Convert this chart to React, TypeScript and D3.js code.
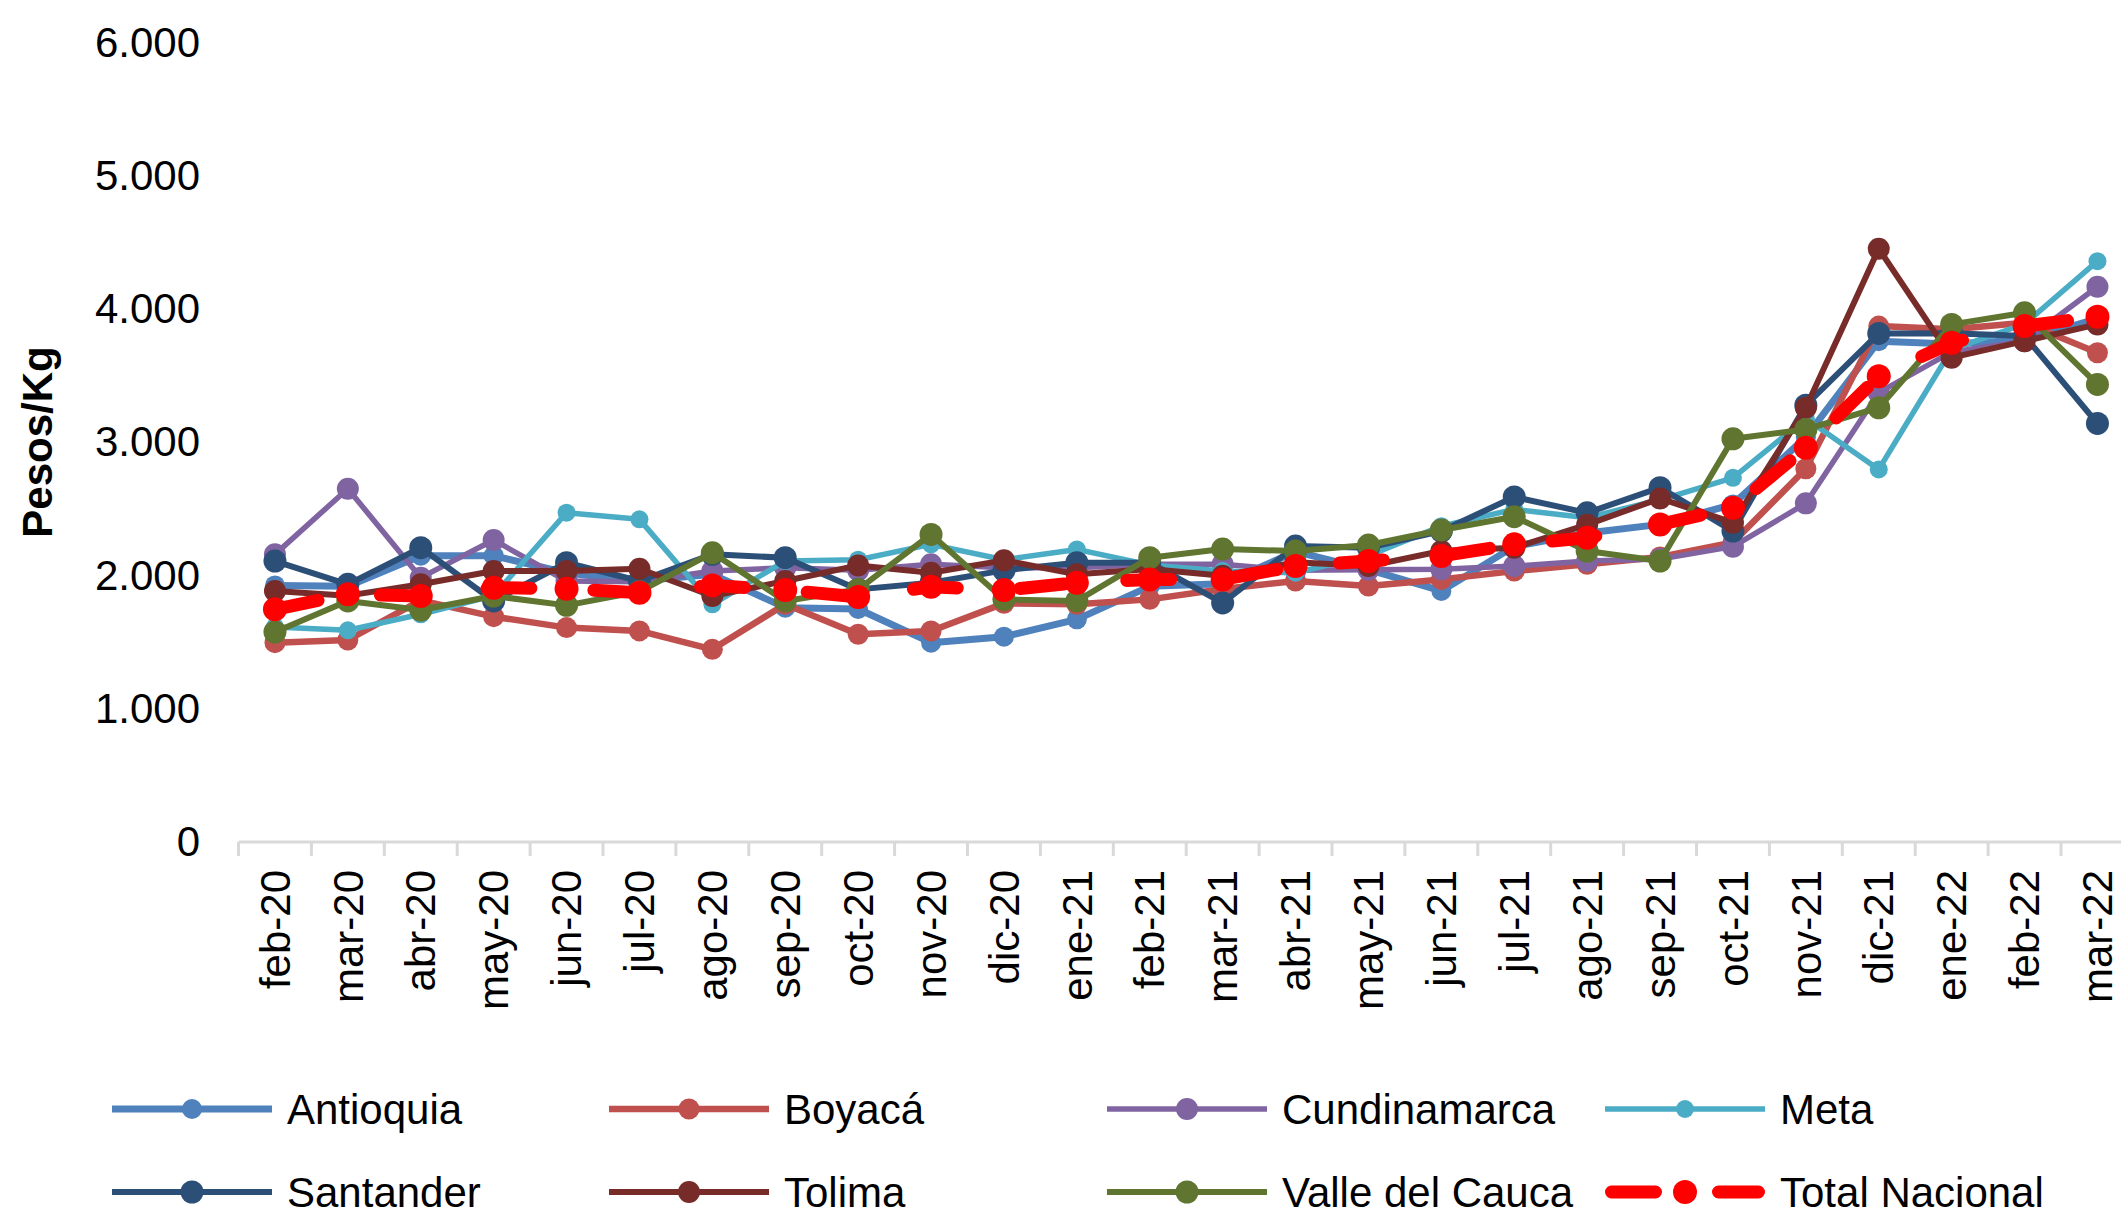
import React, { useEffect, useRef } from 'react';
import * as d3 from 'd3';

const months = [
  'feb-20', 'mar-20', 'abr-20', 'may-20', 'jun-20', 'jul-20', 'ago-20', 'sep-20', 'oct-20',
  'nov-20', 'dic-20', 'ene-21', 'feb-21', 'mar-21', 'abr-21', 'may-21', 'jun-21', 'jul-21',
  'ago-21', 'sep-21', 'oct-21', 'nov-21', 'dic-21', 'ene-22', 'feb-22', 'mar-22',
];

const antioquia = [1927, 1920, 2150, 2150, 2020, 1960, 2010, 1760, 1750, 1497, 1542, 1672, 1920,
  1940, 2180, 2045, 1885, 2220, 2320, 2385, 2535, 3040, 3761, 3740, 3770, 3930];
const boyaca = [1497, 1517, 1815, 1692, 1610, 1585, 1447, 1785, 1560, 1585, 1792, 1785, 1822,
  1900, 1960, 1922, 1972, 2035, 2085, 2140, 2250, 2803, 3874, 3850, 3900, 3674];
const cundinamarca = [2160, 2653, 1985, 2268, 1960, 1955, 2035, 2060, 2040, 2085, 2060, 2060, 2085,
  2085, 2040, 2045, 2048, 2072, 2110, 2125, 2218, 2543, 3374, 3680, 3760, 4170];
const meta = [1615, 1590, 1710, 1850, 2473, 2423, 1785, 2110, 2120, 2235, 2120, 2197, 2080,
  2035, 2022, 2150, 2372, 2498, 2435, 2570, 2735, 3180, 2798, 3700, 3890, 4362];
const santander = [2110, 1935, 2210, 1810, 2097, 1960, 2160, 2135, 1897, 1947, 2040, 2097, 2097,
  1795, 2222, 2210, 2335, 2591, 2472, 2661, 2335, 3280, 3819, 3820, 3800, 3143];
const tolima = [1885, 1850, 1935, 2035, 2035, 2052, 1847, 1960, 2077, 2022, 2115, 2010, 2050,
  2000, 2100, 2072, 2185, 2210, 2383, 2580, 2398, 3261, 4455, 3637, 3761, 3887];
const valle = [1577, 1810, 1742, 1847, 1777, 1880, 2172, 1810, 1897, 2310, 1822, 1810, 2135,
  2200, 2185, 2230, 2343, 2443, 2185, 2110, 3028, 3098, 3261, 3887, 3974, 3436];
const totalNacional = [1747, 1860, 1847, 1910, 1902, 1872, 1927, 1892, 1840, 1917, 1892, 1947, 1972,
  1972, 2072, 2110, 2148, 2235, 2285, 2385, 2510, 2961, 3498, 3749, 3874, 3944];

const yTicks = [0, 1000, 2000, 3000, 4000, 5000, 6000];

const series = [
  { name: 'Antioquia', values: antioquia, color: '#4F81BD', width: 7, r: 10 },
  { name: 'Boyacá', values: boyaca, color: '#C0504D', width: 6.5, r: 10.5 },
  { name: 'Cundinamarca', values: cundinamarca, color: '#8064A2', width: 5.5, r: 11 },
  { name: 'Meta', values: meta, color: '#4BACC6', width: 5.5, r: 9 },
  { name: 'Santander', values: santander, color: '#2C4F78', width: 6, r: 11.5 },
  { name: 'Tolima', values: tolima, color: '#772C2A', width: 6, r: 11 },
  { name: 'Valle del Cauca', values: valle, color: '#5F7530', width: 6, r: 11.5 },
  { name: 'Total Nacional', values: totalNacional, color: '#FF0000', width: 13, r: 12, dash: '44,63' },
];

const W = 2121;
const H = 1212;
const FONT = '"Liberation Sans", Arial, sans-serif';

const App: React.FC = () => {
  const svgRef = useRef<SVGSVGElement>(null);

  useEffect(() => {
    if (!svgRef.current) return;
    const root = d3.select(svgRef.current);
    root.selectAll('*').remove();

    const x0 = 238.5;
    const step = 72.9;
    const x = d3.scaleBand<string>()
      .domain(months)
      .range([x0, x0 + step * months.length])
      .paddingInner(0)
      .paddingOuter(0);
    const y = d3.scaleLinear().domain([0, 6000]).range([842, 43]);
    const cx = (m: string) => (x(m) as number) + x.bandwidth() / 2;

    const fmt = d3.formatLocale({ decimal: ',', thousands: '.', grouping: [3], currency: ['$', ''] }).format(',');

    const svg = root.attr('width', W).attr('height', H).style('font-family', FONT);

    // Y axis labels (no line, no grid)
    const yAxis = svg.append('g')
      .attr('transform', 'translate(200,0)')
      .call(d3.axisLeft(y).tickValues(yTicks).tickSize(0).tickPadding(0).tickFormat((d) => fmt(d as number)));
    yAxis.select('.domain').remove();
    yAxis.selectAll('text')
      .attr('font-size', 42)
      .attr('font-family', FONT)
      .attr('fill', '#000');

    // X axis line + ticks at band boundaries
    const xa = svg.append('g');
    xa.append('line')
      .attr('x1', x0).attr('x2', x0 + step * months.length)
      .attr('y1', y(0)).attr('y2', y(0))
      .attr('stroke', '#d9d9d9').attr('stroke-width', 3);
    xa.selectAll('.tick')
      .data(d3.range(months.length + 1))
      .enter()
      .append('line')
      .attr('x1', (k) => x0 + k * x.step())
      .attr('x2', (k) => x0 + k * x.step())
      .attr('y1', y(0))
      .attr('y2', y(0) + 14)
      .attr('stroke', '#d9d9d9')
      .attr('stroke-width', 3);

    xa.selectAll('.lbl')
      .data(months)
      .enter()
      .append('text')
      .attr('transform', (m) => `translate(${cx(m)},870) rotate(-90)`)
      .attr('text-anchor', 'end')
      .attr('dy', '0.35em')
      .attr('font-size', 42)
      .attr('fill', '#000')
      .text((m) => m);

    // Y title
    svg.append('text')
      .attr('transform', 'translate(52,442) rotate(-90)')
      .attr('text-anchor', 'middle')
      .attr('font-size', 42)
      .attr('font-weight', 700)
      .attr('fill', '#000')
      .text('Pesos/Kg');

    // Series
    const line = d3.line<number>()
      .x((_, i) => cx(months[i]))
      .y((v) => y(v));

    series.forEach((s) => {
      const g = svg.append('g');
      g.append('path')
        .datum(s.values)
        .attr('d', line)
        .attr('fill', 'none')
        .attr('stroke', s.color)
        .attr('stroke-width', s.width)
        .attr('stroke-linejoin', 'round')
        .attr('stroke-linecap', 'round')
        .attr('stroke-dasharray', s.dash || null);
      g.selectAll('circle')
        .data(s.values)
        .enter()
        .append('circle')
        .attr('cx', (_, i) => cx(months[i]))
        .attr('cy', (v) => y(v))
        .attr('r', s.r)
        .attr('fill', s.color);
    });

    // Legend
    const colX = [112, 609, 1107, 1605];
    const rowY = [1109, 1192];
    series.forEach((s, i) => {
      const lx = colX[i % 4];
      const ly = rowY[Math.floor(i / 4)];
      const g = svg.append('g');
      if (s.dash) {
        g.append('line')
          .attr('x1', lx + 6.5).attr('x2', lx + 160 - 6.5)
          .attr('y1', ly).attr('y2', ly)
          .attr('stroke', s.color).attr('stroke-width', s.width)
          .attr('stroke-linecap', 'round')
          .attr('stroke-dasharray', s.dash);
      } else {
        g.append('line')
          .attr('x1', lx).attr('x2', lx + 160)
          .attr('y1', ly).attr('y2', ly)
          .attr('stroke', s.color).attr('stroke-width', s.width);
      }
      g.append('circle')
        .attr('cx', lx + 80).attr('cy', ly)
        .attr('r', s.r)
        .attr('fill', s.color);
      g.append('text')
        .attr('x', lx + 175).attr('y', ly)
        .attr('dy', '0.35em')
        .attr('font-size', 42)
        .attr('fill', '#000')
        .text(s.name);
    });
  }, []);

  return (
    <div style={{ position: 'absolute', left: 0, top: 0, width: W, height: H, overflow: 'hidden', background: '#fff' }}>
      <svg ref={svgRef} width={W} height={H} style={{ display: 'block' }} />
    </div>
  );
};

export default App;
